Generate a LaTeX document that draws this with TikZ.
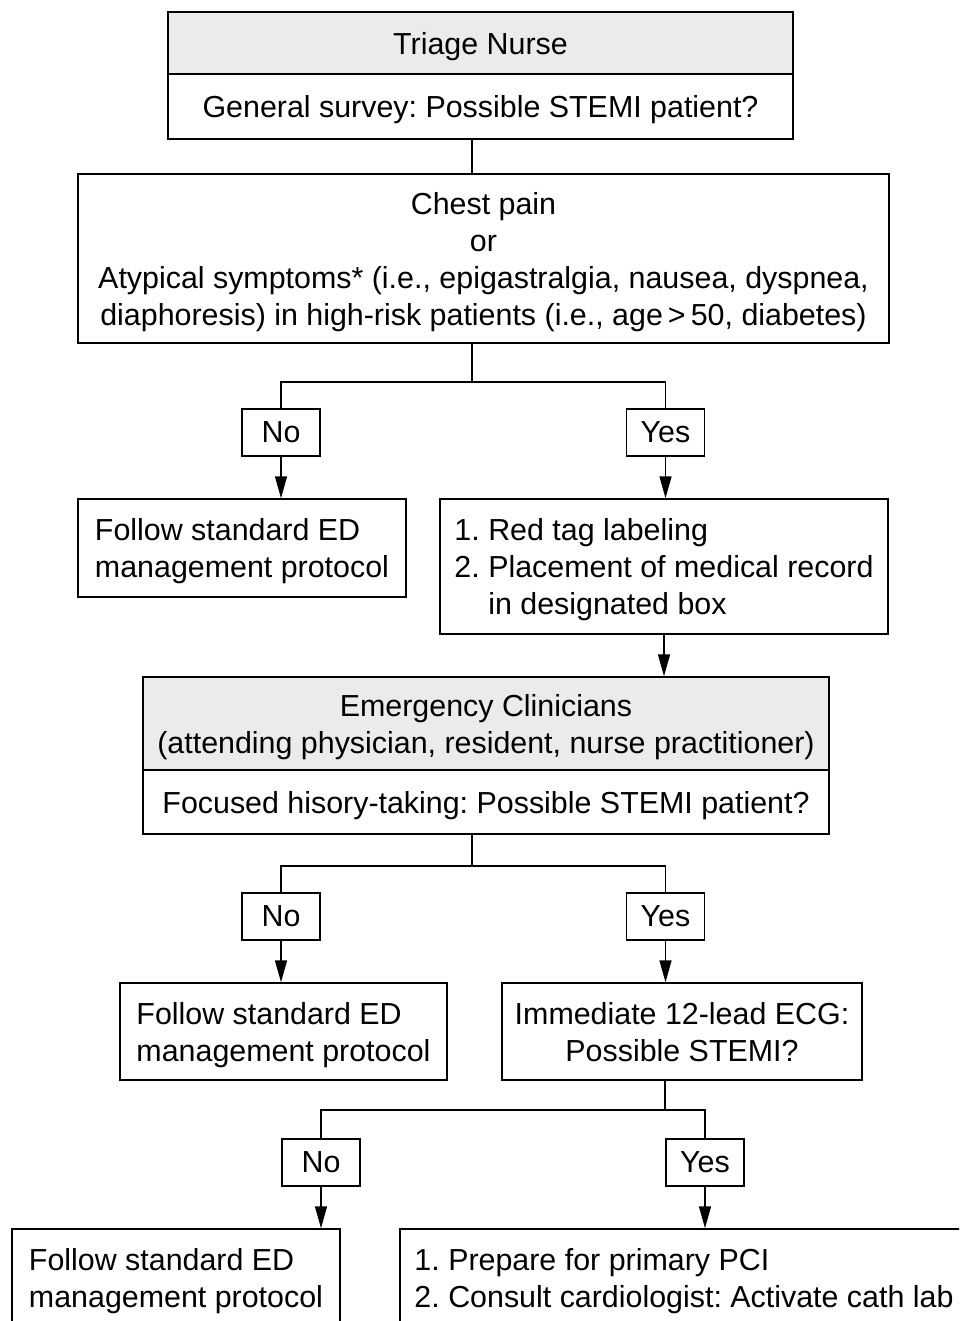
\documentclass[tikz,border=0pt]{standalone}
\usepackage{fontspec}
\setmainfont{Liberation Sans}
\usetikzlibrary{arrows.meta}
\definecolor{headgray}{gray}{0.92}

\begin{document}
\begin{tikzpicture}[
        % one unit is one pixel of the page, y runs downwards
        x=1pt, y=-1pt,
        %
        font=\fontsize{30.4}{37}\selectfont\frenchspacing,
        box/.style={draw, line width=1.5pt, inner sep=0pt, text depth=0pt, align=center},
        headbox/.style={box, fill=headgray},
        answer/.style={draw, line width=1.5pt, minimum width=78pt, minimum height=47pt, inner sep=0pt},
        link/.style={line width=1.5pt},
        arrow/.style={line width=1.5pt, -{Triangle[length=22pt,width=12pt]}}
    ]

        % Fix the page size (the last row is cut by the page)
        \clip (0,0) rectangle (959,1321);

        % Define the x of the answer columns
        \def\nox{281}  \def\yesx{665.5}
        \def\noxx{321} \def\yesxx{705}

        % Draw the triage nurse box
        \node[headbox, minimum width=625pt, minimum height=62pt] (nurse) at (480.5,43) {Triage Nurse};
        \node[box, minimum width=625pt, minimum height=65pt] (survey) at (480.5,106.5)
            {General survey: Possible STEMI patient?};

        % Draw the symptoms box
        \node[box, minimum width=811pt, minimum height=169pt] (chest) at (483.5,258.5)
            {Chest pain\\or\\Atypical symptoms* (i.e., epigastralgia, nausea, dyspnea,\\
             diaphoresis) in high-risk patients (i.e., age\,>\,50, diabetes)};

        % First answers
        \node[answer] (no1)  at (\nox,432.5)  {No};
        \node[answer] (yes1) at (\yesx,432.5) {Yes};

        \node[box, align=left, minimum width=328pt, minimum height=98pt] (follow1) at (242,548)
            {Follow standard ED\\management protocol};
        \node[box, align=left, minimum width=448pt, minimum height=135pt] (redtag) at (664,566.5)
            {1. Red tag labeling\\2. Placement of medical record\\\phantom{2.}\ in designated box};

        % Draw the emergency clinicians box
        \node[headbox, minimum width=686pt, minimum height=93pt] (ec) at (486,723.5)
            {Emergency Clinicians\\(attending physician, resident, nurse practitioner)};
        \node[box, minimum width=686pt, minimum height=64pt] (focus) at (486,802)
            {Focused hisory-taking: Possible STEMI patient?};

        % Second answers
        \node[answer] (no2)  at (\nox,916.5)  {No};
        \node[answer] (yes2) at (\yesx,916.5) {Yes};

        \node[box, align=left, minimum width=327pt, minimum height=97pt] (follow2) at (283.5,1031.5)
            {Follow standard ED\\management protocol};
        \node[box, minimum width=360pt, minimum height=97pt] (ecg) at (682,1031.5)
            {Immediate 12-lead ECG:\\Possible STEMI?};

        % Third answers
        \node[answer] (no3)  at (\noxx,1162.5)  {No};
        \node[answer] (yes3) at (\yesxx,1162.5) {Yes};

        \node[box, align=left, minimum width=328pt, minimum height=97pt] (follow3) at (176,1277.5)
            {Follow standard ED\\management protocol};
        \node[box, align=left, minimum width=568pt, minimum height=97pt] (pci) at (684,1277.5)
            {1. Prepare for primary PCI\\2. Consult cardiologist: Activate cath lab};

        % Draw the first split
        \coordinate (fork1) at (472,382);
        \draw[link] (fork1 |- survey.south) -- (fork1 |- chest.north);
        \draw[link] (fork1 |- chest.south) -- (fork1);
        \draw[link] (no1.north) |- (fork1) -| (yes1.north);
        \draw[arrow] (no1.south) -- (no1.south |- follow1.north);
        \draw[arrow] (yes1.south) -- (yes1.south |- redtag.north);
        \draw[arrow] (redtag.south) -- (redtag.south |- ec.north);

        % Draw the second split
        \coordinate (fork2) at (472,866);
        \draw[link] (fork2 |- focus.south) -- (fork2);
        \draw[link] (no2.north) |- (fork2) -| (yes2.north);
        \draw[arrow] (no2.south) -- (no2.south |- follow2.north);
        \draw[arrow] (yes2.south) -- (yes2.south |- ecg.north);

        % Draw the third split
        \coordinate (fork3) at (665,1110);
        \draw[link] (fork3 |- ecg.south) -- (fork3);
        \draw[link] (no3.north) |- (fork3) -| (yes3.north);
        \draw[arrow] (no3.south) -- (no3.south |- follow3.north);
        \draw[arrow] (yes3.south) -- (yes3.south |- pci.north);

    \end{tikzpicture}
\end{document}
